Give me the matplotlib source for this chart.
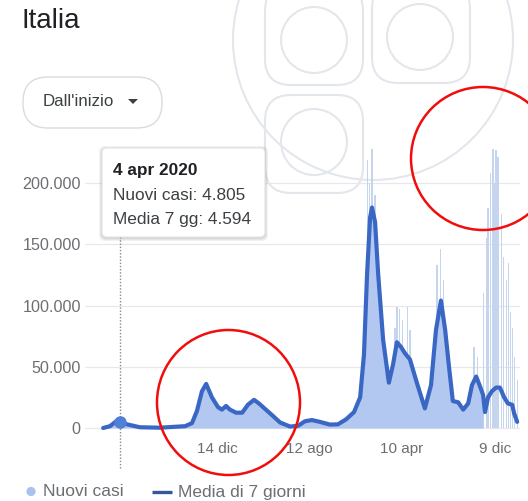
import numpy as np
import matplotlib
matplotlib.use("Agg")
import matplotlib.pyplot as plt
import matplotlib.dates as mdates
from matplotlib.patches import FancyBboxPatch, Circle, Ellipse, Polygon
from datetime import datetime

plt.rcParams['font.family'] = ['Liberation Sans', 'DejaVu Sans']

# ---- data -------------------------------------------------------------
# 7-day average of new cases (Italy)
avg_dates = [
    "2020-02-20", "2020-03-09", "2020-03-25", "2020-04-04", "2020-04-25", "2020-05-26",
    "2020-07-17", "2020-09-21", "2020-10-09", "2020-10-22", "2020-11-04", "2020-11-15",
    "2020-11-30", "2020-12-16", "2020-12-26", "2021-01-06", "2021-01-16", "2021-02-01",
    "2021-02-17", "2021-03-04", "2021-03-20", "2021-04-02", "2021-04-18", "2021-05-06",
    "2021-05-27", "2021-06-22", "2021-07-13", "2021-07-31", "2021-08-18", "2021-09-08",
    "2021-10-04", "2021-10-25", "2021-11-15", "2021-12-06", "2021-12-22", "2022-01-01",
    "2022-01-09", "2022-01-17", "2022-01-22", "2022-01-30", "2022-02-07", "2022-02-20",
    "2022-03-07", "2022-03-18", "2022-03-28", "2022-04-08", "2022-04-18", "2022-05-01",
    "2022-05-19", "2022-06-09", "2022-06-25", "2022-07-08", "2022-07-21", "2022-08-01",
    "2022-08-11", "2022-08-21", "2022-09-04", "2022-09-17", "2022-09-30", "2022-10-10",
    "2022-10-21", "2022-10-31", "2022-11-08", "2022-11-13", "2022-11-21", "2022-12-01",
    "2022-12-12", "2022-12-22", "2023-01-02", "2023-01-12", "2023-01-23", "2023-01-28",
    "2023-02-05",
]
avg_values = [
    0, 1500, 5500, 4594, 2800, 600,
    250, 1500, 4000, 14000, 30000, 36000,
    25000, 17000, 15000, 18000, 15000, 12500,
    12500, 19000, 23000, 20000, 15500, 10500,
    4500, 1200, 1800, 5500, 6500, 5000,
    2800, 3000, 7000, 13000, 25000, 60000,
    125000, 172000, 180000, 168000, 126000, 72000,
    37000, 52000, 70000, 66000, 61000, 56000,
    37000, 16000, 35000, 80000, 104000, 80000,
    50000, 22000, 21000, 15000, 20000, 35000,
    42000, 34000, 27000, 13000, 25000, 30000,
    33000, 33000, 25000, 20000, 19000, 12000,
    5000,
]
# daily reports ending before weekly reporting starts
daily_end = "2022-11-08"

# single-day reports that rise above the average
spike_dates = [
    "2022-01-11", "2022-01-16", "2022-01-22", "2022-01-24", "2022-01-30",
    "2022-03-23", "2022-03-28", "2022-04-04", "2022-04-12", "2022-04-25", "2022-05-01",
    "2022-07-11", "2022-07-19", "2022-07-27",
    "2022-10-15", "2022-10-25",
]
spike_values = [
    219000, 200000, 228000, 208000, 190000,
    82000, 99000, 97000, 88000, 99000, 80000,
    133000, 146000, 121000,
    66000, 58000,
]

# weekly totals shown as daily bars at the end of the series
weekly_dates = [
    "2022-11-10", "2022-11-16", "2022-11-21", "2022-11-28", "2022-12-04", "2022-12-08",
    "2022-12-12", "2022-12-17", "2022-12-27", "2023-01-01", "2023-01-08", "2023-01-13",
    "2023-01-18", "2023-01-23", "2023-01-30", "2023-02-06",
]
weekly_values = [
    110000, 155000, 180000, 208000, 228000, 200000,
    227000, 221000, 175000, 140000, 121000, 135000,
    95000, 82000, 58000, 39000,
]

tooltip_date = "2020-04-04"
tooltip_new = 4805
tooltip_avg = 4594

y_ticks = [0, 50000, 100000, 150000, 200000]
x_tick_dates = ["2020-12-14", "2021-08-12", "2022-04-10", "2022-12-09"]
x_tick_labels = ["14 dic", "12 ago", "10 apr", "9 dic"]


def to_num(ds):
    return mdates.date2num([datetime.strptime(d, "%Y-%m-%d") for d in ds])


def fmt_it(v):
    return f"{int(v):,}".replace(",", ".")


# ---- colours ----------------------------------------------------------
LINE = "#3b67c4"
FILL = "#b2c8f1"
BAR = "#c6d5ee"
GRID = "#e8e8e8"
TXT = "#6b6e72"
WM = "#e3e7ec"

W, H = 528, 501
fig = plt.figure(figsize=(W / 100, H / 100), dpi=100)
fig.patch.set_facecolor("white")

# background layer (pixel coordinates) for the watermark logo
bg = fig.add_axes([0, 0, 1, 1], zorder=0)
bg.set_xlim(0, W)
bg.set_ylim(H, 0)
bg.axis("off")
bg.add_patch(Circle((373, 40), 140, fill=False, ec=WM, lw=1.5))
for cx, cy in [(314, 40), (420, 37), (314, 142)]:
    bg.add_patch(Circle((cx, cy), 33, fill=False, ec=WM, lw=1.5))
for x0, y0, w, h in [(265, -15, 98, 100), (372, -17, 98, 100), (265, 95, 98, 98)]:
    bg.add_patch(FancyBboxPatch((x0, y0), w, h,
                                boxstyle="round,pad=0,rounding_size=26",
                                fill=False, ec=WM, lw=1.5))

# ---- chart axes -------------------------------------------------------
px_per_day = 0.383
d_ref = to_num([tooltip_date])[0]
ax = fig.add_axes([85 / W, (H - 440.25) / H, 435 / W, 300.1 / H], zorder=1)
ax.patch.set_alpha(0)
ax.set_xlim(d_ref - 35 / px_per_day, d_ref + 400 / px_per_day)
ax.set_ylim(-10000, 235000)

ax.set_yticks(y_ticks)
ax.set_yticklabels([fmt_it(v) for v in y_ticks])
ax.set_xticks(to_num(x_tick_dates))
ax.set_xticklabels(x_tick_labels)
ax.tick_params(axis="both", length=0, labelcolor=TXT)
ax.tick_params(axis="y", pad=3, labelsize=11.6)
ax.tick_params(axis="x", pad=1, labelsize=11)
for s in ax.spines.values():
    s.set_visible(False)
ax.grid(axis="y", color=GRID, lw=0.9)
ax.set_axisbelow(True)

xd = to_num(avg_dates)
yv = np.array(avg_values, dtype=float)
mask = xd <= to_num([daily_end])[0]

ax.bar(to_num(spike_dates), spike_values, width=3.5, color=BAR, zorder=2)
ax.bar(to_num(weekly_dates), weekly_values, width=3.2, color=BAR, zorder=2)
ax.fill_between(xd[mask], 0, yv[mask], color=FILL, lw=0, zorder=3)
ax.plot(xd, yv, color=LINE, lw=3.0, solid_joinstyle="round", solid_capstyle="round", zorder=4)

# hover cursor
ax.plot([d_ref, d_ref], [-32600, 156000], color="#8a8a8a", lw=1.0,
        ls=(0, (1, 1.3)), clip_on=False, zorder=5)
ax.plot([d_ref], [tooltip_avg], "o", ms=8, color="#4f7fd6", zorder=6)

# ---- overlay layer (pixel coordinates) --------------------------------
ov = fig.add_axes([0, 0, 1, 1], zorder=3)
ov.set_xlim(0, W)
ov.set_ylim(H, 0)
ov.axis("off")

ov.text(22, 28, "Italia", fontsize=20, color="#202124", va="baseline", ha="left")

ov.add_patch(FancyBboxPatch((23, 77), 139, 51, boxstyle="round,pad=0,rounding_size=25",
                            fc="white", ec="#d9dbde", lw=1.0))
ov.text(43, 101.5, "Dall'inizio", fontsize=12.2, color="#3c4043", va="center", ha="left")
ov.add_patch(Polygon([[128, 99], [138, 99], [133, 104]], closed=True, fc="#3c4043", ec="none"))

# tooltip card
for i, a in enumerate([0.05, 0.05, 0.06]):
    g = 3 - i
    ov.add_patch(FancyBboxPatch((102 - g, 148 - g + 1), 163 + 2 * g, 89 + 2 * g,
                                boxstyle="round,pad=0,rounding_size=6",
                                fc="#000000", ec="none", alpha=a))
ov.add_patch(FancyBboxPatch((102, 148), 163, 89, boxstyle="round,pad=0,rounding_size=5",
                            fc="white", ec="#e4e4e4", lw=0.8))
tip_day = datetime.strptime(tooltip_date, "%Y-%m-%d")
ov.text(113, 171, f"{tip_day.day} apr {tip_day.year}", fontsize=12.4, fontweight="bold",
        color="#202124", va="center", ha="left")
ov.text(113, 195, f"Nuovi casi: {fmt_it(tooltip_new)}", fontsize=12.4, color="#3c4043",
        va="center", ha="left")
ov.text(113, 219.5, f"Media 7 gg: {fmt_it(tooltip_avg)}", fontsize=12.4, color="#3c4043",
        va="center", ha="left")

# legend
ov.add_patch(Circle((31, 491.5), 4.6, fc="#a9c1ef", ec="none"))
ov.text(43, 492, "Nuovi casi", fontsize=12.5, color=TXT, va="center", ha="left")
ov.plot([152, 172], [491.5, 491.5], color="#33569c", lw=2.4, solid_capstyle="butt")
ov.text(178, 492, "Media di 7 giorni", fontsize=12.5, color=TXT, va="center", ha="left")

# red highlight rings
ov.add_patch(Ellipse((228.5, 402.5), 143, 145, fill=False, ec="#f20d0d", lw=1.8))
ov.add_patch(Ellipse((483, 158.5), 144, 143, fill=False, ec="#f20d0d", lw=1.8))

fig.savefig("out.png", dpi=100, facecolor="white")
